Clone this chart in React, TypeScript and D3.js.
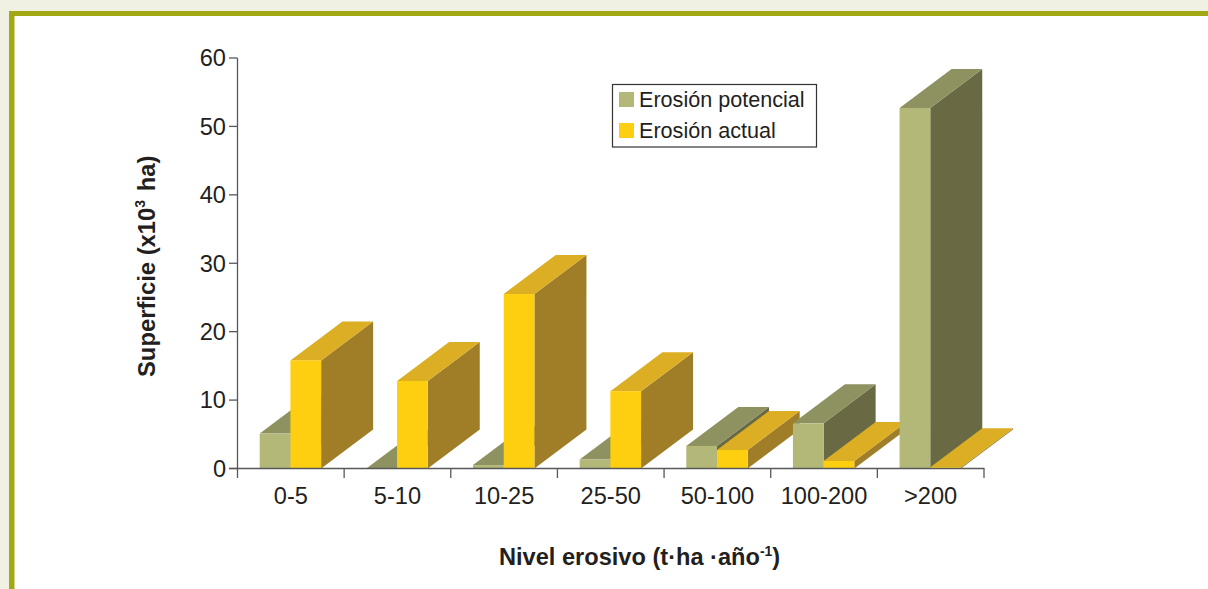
import React from "react";
import * as d3 from "d3";

const categories = ["0-5", "5-10", "10-25", "25-50", "50-100", "100-200", ">200"];
const potencial = [5.1, 0, 0.5, 1.3, 3.3, 6.6, 52.7];
const actual = [15.8, 12.8, 25.5, 11.3, 2.7, 1.1, 0.2];
const yTicks = [0, 10, 20, 30, 40, 50, 60];
const seriesNames = ["Erosión potencial", "Erosión actual"];

const FONT = "'Liberation Sans', Arial, sans-serif";
const INK = "#231f20";
const AXIS = "#58585a";
const GREEN = { front: "#b3b778", top: "#8e9160", side: "#696a44" };
const YELLOW = { front: "#fecf10", top: "#dcae23", side: "#9f7e27" };
const DX = 52;
const DY = 39;

const x = d3.scaleBand<string>().domain(categories).range([237.5, 984]);
const y = d3.scaleLinear().domain([0, 60]).range([468.5, 58]);

function Bar3D({ x0, x1, value, c }: { x0: number; x1: number; value: number; c: typeof GREEN }) {
  const yb = y(0);
  const yt = y(value);
  const poly = (pts: [number, number][]) => pts.map((p) => p.join(",")).join(" ");
  return (
    <g>
      <polygon points={poly([[x1, yt], [x1 + DX, yt - DY], [x1 + DX, yb - DY], [x1, yb]])} fill={c.side} />
      <polygon points={poly([[x0, yt], [x0 + DX, yt - DY], [x1 + DX, yt - DY], [x1, yt]])} fill={c.top} />
      <rect x={x0} y={yt} width={x1 - x0} height={yb - yt} fill={c.front} />
    </g>
  );
}

export default function App() {
  const bw = x.bandwidth();
  const barW = 30.7;
  const pad = (bw - 2 * barW) / 2 - 0.4;
  return (
    <svg width={1208} height={589} style={{ position: "absolute", left: 0, top: 0, display: "block" }} fontFamily={FONT}>
      <rect width={1208} height={589} fill="#f1f1e3" />
      <rect x={9} y={11} width={1199} height={578} fill="#a3a815" />
      <rect x={14.5} y={16} width={1193.5} height={573} fill="#ffffff" />

      {categories.map((cat, i) => {
        const x0 = x(cat)! + pad;
        return (
          <g key={cat}>
            <Bar3D x0={x0} x1={x0 + barW} value={potencial[i]} c={GREEN} />
            <Bar3D x0={x0 + barW} x1={x0 + 2 * barW} value={actual[i]} c={YELLOW} />
          </g>
        );
      })}

      <line x1={237.5} x2={237.5} y1={y(60)} y2={y(0)} stroke={AXIS} strokeWidth={1.3} />
      <line x1={229} x2={984.5} y1={y(0)} y2={y(0)} stroke={AXIS} strokeWidth={1.6} />
      {yTicks.map((t) => (
        <g key={t}>
          <line x1={229} x2={237.5} y1={y(t)} y2={y(t)} stroke={AXIS} strokeWidth={1.3} />
          <text x={226} y={y(t) + 8.3} textAnchor="end" fontSize={23.6} fill={INK}>{t}</text>
        </g>
      ))}
      {categories.map((cat) => (
        <g key={cat}>
          <line x1={x(cat)!} x2={x(cat)!} y1={y(0)} y2={478} stroke={AXIS} strokeWidth={1.3} />
          <text x={x(cat)! + bw / 2} y={504} textAnchor="middle" fontSize={23.6} fill={INK}>{cat}</text>
        </g>
      ))}
      <line x1={984} x2={984} y1={y(0)} y2={478} stroke={AXIS} strokeWidth={1.3} />

      <rect x={612.5} y={84.5} width={204} height={62.5} fill="#fff" stroke="#333" strokeWidth={1.2} />
      <rect x={619} y={92} width={15} height={15} fill={GREEN.front} />
      <rect x={619} y={123} width={15} height={15} fill={YELLOW.front} />
      <text x={639} y={107} fontSize={21.6} fill={INK}>{seriesNames[0]}</text>
      <text x={639} y={138} fontSize={21.6} fill={INK}>{seriesNames[1]}</text>

      <text transform="translate(155,377) rotate(-90)" fontSize={23.8} fontWeight="bold" fill={INK}>
        Superficie (x10<tspan fontSize={14} dy={-10}>3</tspan><tspan dy={10} dx={2}> ha)</tspan>
      </text>
      <text x={499} y={565} fontSize={23.6} fontWeight="bold" fill={INK}>
        Nivel erosivo (t·ha ·año<tspan fontSize={14} dy={-9}>-1</tspan><tspan dy={9}>)</tspan>
      </text>
    </svg>
  );
}
